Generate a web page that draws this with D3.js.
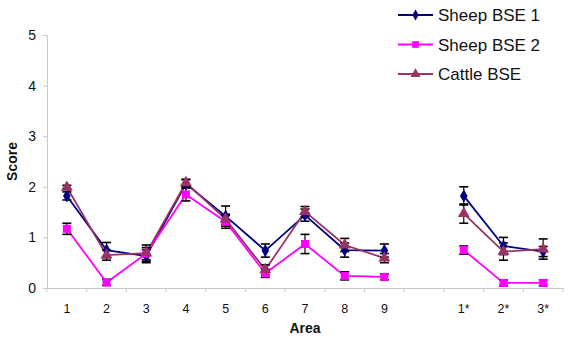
<!DOCTYPE html>
<html>
<head>
<meta charset="utf-8">
<script src="https://cdn.jsdelivr.net/npm/d3@7"></script>
<style>
  body { margin: 0; background: #fff; }
  text { font-family: "Liberation Sans", Arial, sans-serif; fill: #111; }
</style>
</head>
<body>
<div id="chart"></div>
<script>
// categories ("" is the empty slot between 9 and 1*)
var areas = ["1", "2", "3", "4", "5", "6", "7", "8", "9", "", "1*", "2*", "3*"];
var yTicks = [0, 1, 2, 3, 4, 5];

// series values, null for the gap
var sheep1 = [1.82, 0.75, 0.63, 2.06, 1.42, 0.74, 1.44, 0.75, 0.74, null, 1.82, 0.83, 0.72];
var sheep2 = [1.17, 0.11, 0.68, 1.85, 1.31, 0.29, 0.87, 0.24, 0.22, null, 0.75, 0.10, 0.10];
var cattle = [1.99, 0.65, 0.69, 2.08, 1.36, 0.36, 1.51, 0.85, 0.59, null, 1.47, 0.72, 0.77];

// error bar half widths
var sheep1Err = [0.08, 0.15, 0.13, 0.08, 0.2, 0.13, 0.12, 0.14, 0.13, null, 0.18, 0.17, 0.1];
var sheep2Err = [0.11, 0.06, 0.12, 0.13, 0.13, 0.08, 0.19, 0.08, 0.06, null, 0.08, 0.06, 0.06];
var cattleErr = [0.04, 0.1, 0.16, 0.07, 0.1, 0.1, 0.1, 0.13, 0.09, null, 0.19, 0.17, 0.2];

var seriesNames = ["Sheep BSE 1", "Sheep BSE 2", "Cattle BSE"];
var seriesColors = ["#000080", "#ff00ff", "#993366"];

var series = [
    { name: seriesNames[0], values: sheep1, err: sheep1Err, color: seriesColors[0], symbol: d3.symbolDiamond, size: 50 },
    { name: seriesNames[1], values: sheep2, err: sheep2Err, color: seriesColors[1], symbol: d3.symbolSquare, size: 64 },
    { name: seriesNames[2], values: cattle, err: cattleErr, color: seriesColors[2], symbol: d3.symbolTriangle, size: 62 }
];

var W = 577, H = 343;
var margin = { top: 35, left: 47, bottom: 55, right: 14 };

var svg = d3.select("#chart").append("svg")
    .attr("width", W)
    .attr("height", H);

var x = d3.scaleBand()
    .domain(areas)
    .range([margin.left, W - margin.right]);
var y = d3.scaleLinear()
    .domain([0, 5])
    .range([H - margin.bottom, margin.top]);

var axisColor = "#c8c8c8";

// y axis
var yAxis = svg.append("g")
    .attr("transform", "translate(" + margin.left + ",0)")
    .call(d3.axisLeft(y).tickValues(yTicks).tickSize(4).tickPadding(7).tickFormat(d3.format("d")));
yAxis.select(".domain").attr("stroke", axisColor);
yAxis.selectAll(".tick line").attr("stroke", axisColor);
yAxis.selectAll(".tick text").style("font-size", "14px").attr("fill", "#111");

// x axis, ticks sit on the band boundaries
var xAxis = svg.append("g")
    .attr("transform", "translate(0," + y(0) + ")")
    .call(d3.axisBottom(x).tickSize(0).tickPadding(16));
xAxis.select(".domain").attr("stroke", axisColor);
xAxis.selectAll(".tick text").style("font-size", "12.5px").attr("fill", "#111");
xAxis.selectAll(".bound")
    .data(areas.concat(["end"]))
    .enter().append("line")
    .attr("x1", function (d, i) { return margin.left + i * x.step(); })
    .attr("x2", function (d, i) { return margin.left + i * x.step(); })
    .attr("y1", 0)
    .attr("y2", 4)
    .attr("stroke", axisColor);

// axis titles
svg.append("text")
    .attr("transform", "translate(17," + ((margin.top + y(0)) / 2) + ") rotate(-90)")
    .attr("text-anchor", "middle")
    .style("font-size", "14px")
    .style("font-weight", "700")
    .text("Score");

svg.append("text")
    .attr("x", (margin.left + W - margin.right) / 2)
    .attr("y", 333)
    .attr("text-anchor", "middle")
    .style("font-size", "14px")
    .style("font-weight", "700")
    .text("Area");

function cx(i) { return x(areas[i]) + x.bandwidth() / 2; }

var line = d3.line()
    .defined(function (d) { return d != null; })
    .x(function (d, i) { return cx(i); })
    .y(function (d) { return y(d); });

// lines
series.forEach(function (s) {
    svg.append("path")
        .datum(s.values)
        .attr("fill", "none")
        .attr("stroke", s.color)
        .attr("stroke-width", 1.8)
        .attr("d", line);
});

// error bars
series.forEach(function (s) {
    var g = svg.append("g");
    s.values.forEach(function (v, i) {
        if (v == null) return;
        var e = s.err[i], px = cx(i);
        g.append("line")
            .attr("x1", px).attr("x2", px)
            .attr("y1", y(v - e)).attr("y2", y(v + e))
            .attr("stroke", "#000").attr("stroke-width", 1.2);
        [v - e, v + e].forEach(function (w) {
            g.append("line")
                .attr("x1", px - 4.5).attr("x2", px + 4.5)
                .attr("y1", y(w)).attr("y2", y(w))
                .attr("stroke", "#000").attr("stroke-width", 1.6);
        });
    });
});

// markers
series.forEach(function (s) {
    svg.append("g").selectAll("path")
        .data(s.values.map(function (v, i) { return { v: v, i: i }; }).filter(function (d) { return d.v != null; }))
        .enter().append("path")
        .attr("transform", function (d) { return "translate(" + cx(d.i) + "," + y(d.v) + ")"; })
        .attr("d", d3.symbol().type(s.symbol).size(s.size))
        .attr("fill", s.color);
});

// legend
var legend = svg.append("g").attr("transform", "translate(398,15)");
series.forEach(function (s, k) {
    var row = legend.append("g").attr("transform", "translate(0," + (k * 29.5) + ")");
    row.append("line")
        .attr("x1", 0).attr("x2", 35)
        .attr("stroke", s.color).attr("stroke-width", 1.8);
    row.append("path")
        .attr("transform", "translate(17.5,0)")
        .attr("d", d3.symbol().type(s.symbol).size(s.size * 0.7))
        .attr("fill", s.color);
    row.append("text")
        .attr("x", 40)
        .attr("y", 0)
        .attr("dy", "0.36em")
        .style("font-size", "17px")
        .text(s.name);
});
</script>
</body>
</html>
